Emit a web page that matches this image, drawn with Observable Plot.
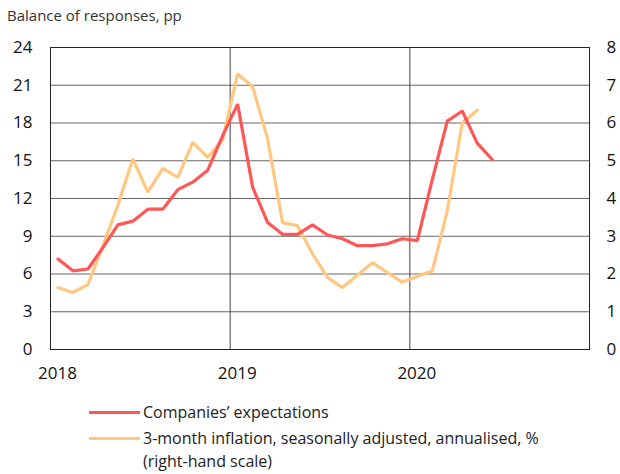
<!DOCTYPE html>
<html>
<head>
<meta charset="utf-8">
<script src="https://cdn.jsdelivr.net/npm/d3@7"></script>
<script src="https://cdn.jsdelivr.net/npm/@observablehq/plot@0.6"></script>
<style>
  body { margin: 0; background: #fff; font-family: "Open Sans", sans-serif; color: #222; }
  #title { height: 28px; padding-top: 3px; box-sizing: border-box; padding-left: 7px; font-size: 15px; line-height: 24px; color: #333; }
  #legend { padding-left: 89px; padding-top: 11px; font-size: 16px; color: #222; }
  .item { display: flex; align-items: flex-start; line-height: 23px; margin-bottom: 3px; }
  .sw { width: 51px; height: 3px; margin-top: 10px; margin-right: 3px; flex: none; }
</style>
</head>
<body>
<div id="title">Balance of responses, pp</div>
<div id="chart"></div>
<div id="legend"></div>
<script>
// Monthly observations starting January 2018
const startYear = 2018;
const companiesExpectations = [7.2, 6.25, 6.4, 8.1, 9.9, 10.2, 11.15, 11.15, 12.7, 13.3, 14.25, 17.0,
  19.5, 12.9, 10.1, 9.15, 9.15, 9.9, 9.1, 8.8, 8.25, 8.25, 8.4, 8.8, 8.65, 13.5, 18.15, 18.95, 16.4, 15.1];
const inflation3m = [1.64, 1.51, 1.72, 2.75, 3.82, 5.05, 4.17, 4.8, 4.56, 5.49, 5.09, 5.56,
  7.3, 6.96, 5.58, 3.36, 3.28, 2.53, 1.91, 1.64, 1.97, 2.3, 2.04, 1.78, 1.94, 2.08, 3.67, 6.0, 6.34];
const leftTicks = [0, 3, 6, 9, 12, 15, 18, 21, 24];
const rightTicks = [0, 1, 2, 3, 4, 5, 6, 7, 8];
const yearTicks = [2018, 2019, 2020];
const seriesNames = ["Companies’ expectations", "3-month inflation, seasonally adjusted, annualised, %\n(right-hand scale)"];
const seriesColors = ["#ff5757", "#ffc77f"];

const redData = companiesExpectations.map((v, i) => ({x: startYear + (i + 0.5) / 12, y: v}));
const orangeData = inflation3m.map((v, i) => ({x: startYear + (i + 0.5) / 12, y: v * 3}));

const plot = Plot.plot({
  width: 620,
  height: 362,
  marginLeft: 50,
  marginRight: 31,
  marginTop: 19,
  marginBottom: 41,
  style: {fontFamily: "Open Sans, sans-serif", fontSize: "17px", color: "#111", background: "#fff"},
  x: {type: "linear", domain: [2018, 2021]},
  y: {domain: [0, 24]},
  marks: [
    Plot.ruleY(leftTicks.slice(1, -1), {stroke: "#666", strokeWidth: 1}),
    Plot.ruleX(yearTicks.slice(1), {stroke: "#444", strokeWidth: 1}),
    Plot.frame({stroke: "#222", strokeWidth: 1}),
    Plot.axisY(leftTicks, {anchor: "left", tickSize: 0, tickPadding: 18, label: null, fontSize: 17}),
    Plot.axisY(leftTicks, {anchor: "right", tickSize: 0, tickPadding: 17, label: null, fontSize: 17,
      tickFormat: d => String(rightTicks[leftTicks.indexOf(d)]), textAnchor: "start"}),
    Plot.axisX(yearTicks, {anchor: "bottom", tickSize: 0, tickPadding: 17, label: null, fontSize: 17,
      tickFormat: d => String(d), dx: 7}),
    Plot.line(orangeData, {x: "x", y: "y", stroke: seriesColors[1], strokeWidth: 3.2, strokeLinejoin: "miter"}),
    Plot.line(redData, {x: "x", y: "y", stroke: seriesColors[0], strokeWidth: 3.2, strokeLinejoin: "miter"})
  ]
});
document.getElementById("chart").appendChild(plot);

const legend = document.getElementById("legend");
seriesNames.forEach((name, i) => {
  const item = document.createElement("div");
  item.className = "item";
  const sw = document.createElement("div");
  sw.className = "sw";
  sw.style.background = seriesColors[i];
  const label = document.createElement("div");
  label.innerHTML = name.replace("\n", "<br>");
  item.appendChild(sw);
  item.appendChild(label);
  legend.appendChild(item);
});
</script>
</body>
</html>
